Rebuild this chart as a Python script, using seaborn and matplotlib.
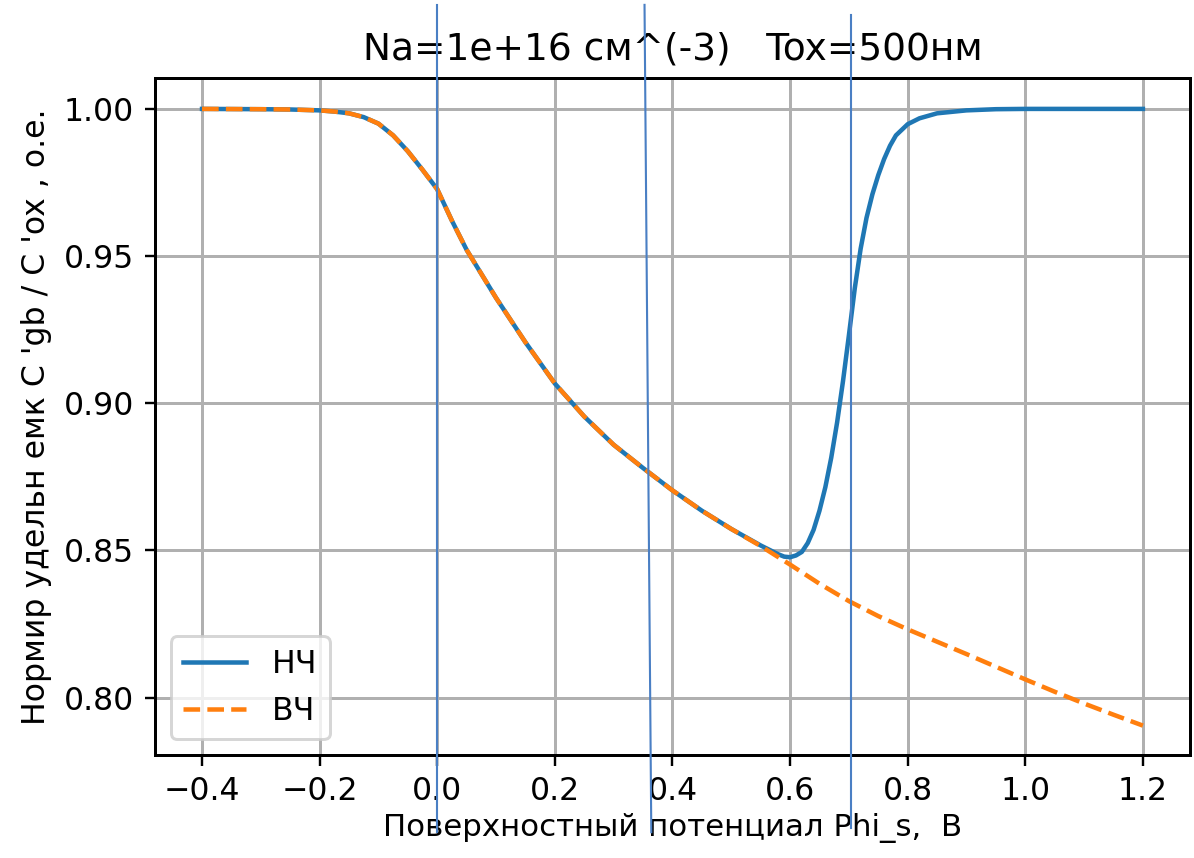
import numpy as np
import pandas as pd
import matplotlib
matplotlib.use("Agg")
import matplotlib.pyplot as plt
import matplotlib.transforms as mtransforms
import seaborn as sns

# HF curve (ВЧ)
hf_phi = [-0.4, -0.3, -0.25, -0.2, -0.175, -0.15, -0.125, -0.1, -0.075, -0.05,
          -0.025, 0.0, 0.025, 0.05, 0.1, 0.15, 0.2, 0.25, 0.3, 0.35, 0.4, 0.45,
          0.5, 0.55, 0.6, 0.65, 0.7, 0.75, 0.8, 0.85, 0.9, 0.95, 1.0, 1.05,
          1.1, 1.15, 1.2]
hf_c = [1.0, 0.9999, 0.9998, 0.9995, 0.9991, 0.9985, 0.9972, 0.9950, 0.9910,
        0.9856, 0.9793, 0.9727, 0.9620, 0.9521, 0.9358, 0.9207, 0.9067, 0.8955,
        0.8859, 0.8780, 0.8704, 0.8635, 0.8573, 0.8515, 0.8452, 0.8387, 0.8328,
        0.8277, 0.8232, 0.8190, 0.8148, 0.8105, 0.8062, 0.8020, 0.7980, 0.7942,
        0.7905]

# LF curve (НЧ): same as HF up to 0.55, then the inversion rise
lf_phi = [-0.4, -0.3, -0.25, -0.2, -0.175, -0.15, -0.125, -0.1, -0.075, -0.05,
          -0.025, 0.0, 0.025, 0.05, 0.1, 0.15, 0.2, 0.25, 0.3, 0.35, 0.4, 0.45,
          0.5, 0.55, 0.58, 0.59, 0.6, 0.61, 0.62, 0.63, 0.64, 0.65, 0.66, 0.67,
          0.68, 0.69, 0.7, 0.71, 0.72, 0.73, 0.74, 0.75, 0.76, 0.77, 0.78, 0.8,
          0.82, 0.85, 0.9, 0.95, 1.0, 1.1, 1.2]
lf_c = [1.0, 0.9999, 0.9998, 0.9995, 0.9991, 0.9985, 0.9972, 0.9950, 0.9910,
        0.9856, 0.9793, 0.9727, 0.9620, 0.9521, 0.9358, 0.9207, 0.9067, 0.8955,
        0.8859, 0.8780, 0.8704, 0.8635, 0.8573, 0.8517, 0.8487, 0.8479, 0.8477,
        0.8483, 0.8495, 0.8525, 0.8570, 0.8635, 0.8715, 0.8815, 0.8935, 0.9075,
        0.9230, 0.9390, 0.9525, 0.9630, 0.9710, 0.9775, 0.9830, 0.9875, 0.9910,
        0.9948, 0.9968, 0.9985, 0.9995, 0.9999, 1.0, 1.0, 1.0]

# thin marker lines drawn over the figure (x at top / bottom)
mark_x_top = [0.0, 0.3525, 0.704]
mark_x_bottom = [0.0, 0.364, 0.704]
mark_y_top = [1.108, 1.108, 1.093]
mark_y_bottom = [-0.114, -0.114, -0.108]

hf = pd.DataFrame({'phi': hf_phi, 'c': hf_c})
lf = pd.DataFrame({'phi': lf_phi, 'c': lf_c})

plt.rcParams['font.family'] = ['DejaVu Sans']
fig = plt.figure(figsize=(1194 / 216, 858 / 216), dpi=216)
ax = fig.add_axes([0.1298, 0.12, 0.8668, 0.7891])

sns.lineplot(data=lf, x='phi', y='c', ax=ax, color='#1f77b4', lw=1.5,
             label='НЧ', sort=False)
sns.lineplot(data=hf, x='phi', y='c', ax=ax, color='#ff7f0e', lw=1.5,
             linestyle='--', label='ВЧ', sort=False)

ax.grid(True, color='#b0b0b0', lw=1.0)
ax.set_axisbelow(True)
for s in ax.spines.values():
    s.set_color('black')
    s.set_linewidth(1.0)

ax.set_xlim(-0.48, 1.28)
ax.set_ylim(0.7805, 1.0105)
ax.set_yticks([0.80, 0.85, 0.90, 0.95, 1.00])
ax.set_xticks([-0.4, -0.2, 0.0, 0.2, 0.4, 0.6, 0.8, 1.0, 1.2])
ax.tick_params(labelsize=10.5)

ax.set_title('Na=1e+16 см^(-3)   Tox=500нм', fontsize=12.5)
ax.set_xlabel('Поверхностный потенциал Phi_s,  В', fontsize=10.3, labelpad=2)
ax.set_ylabel("Нормир удельн емк C 'gb / C 'ox , о.е.", fontsize=10.5)
ax.legend(loc='lower left', fontsize=10.5)

trans = mtransforms.blended_transform_factory(ax.transData, ax.transAxes)
for xt, xb, yt, yb in zip(mark_x_top, mark_x_bottom, mark_y_top, mark_y_bottom):
    ax.plot([xt, xb], [yt, yb], transform=trans, color='#4a7fc4', lw=0.7,
            clip_on=False, zorder=5)

fig.savefig('out.png', dpi=216)
